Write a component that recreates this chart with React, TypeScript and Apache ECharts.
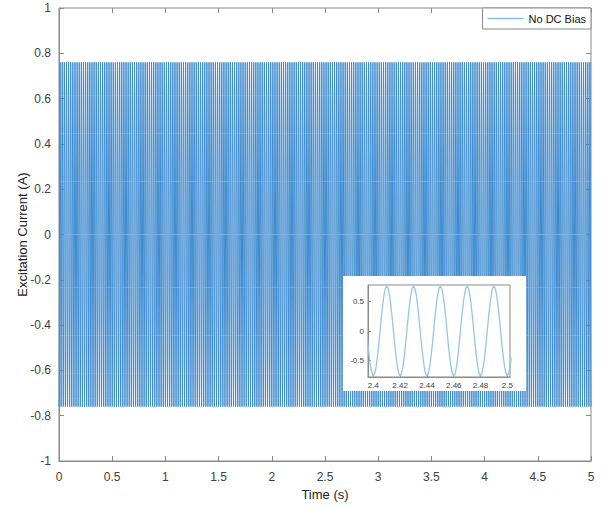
import React, { useEffect, useRef } from "react";
import * as echarts from "echarts";

// Signal: 50 Hz sine, ±0.76 A, 0..5 s
const signalAmplitude = 0.76;
const signalFrequencyHz = 50;
const sampleRateHz = 1000;
const durationS = 5;

const insetXTicks = [2.4, 2.42, 2.44, 2.46, 2.48, 2.5];
const insetYTicks = [-0.5, 0, 0.5];
const insetRange = [2.396, 2.502];
const legendLabel = "No DC Bias";

function buildSignal(): number[][] {
  const n = Math.round(durationS * sampleRateHz);
  const out: number[][] = [];
  for (let i = 0; i <= n; i++) {
    const t = i / sampleRateHz;
    out.push([t, -signalAmplitude * Math.cos(2 * Math.PI * signalFrequencyHz * t)]);
  }
  return out;
}

export default function App() {
  const ref = useRef<HTMLDivElement>(null);
  useEffect(() => {
    if (!ref.current) return;
    const chart = echarts.init(ref.current, undefined, { renderer: "svg" });
    const data = buildSignal();
    const insetData = data.filter((d) => d[0] >= insetRange[0] - 0.002 && d[0] <= insetRange[1] + 0.002);
    const font = "'Liberation Sans', Arial, Helvetica, sans-serif";
    const axisColor = "#8a8a8a";
    const labelColor = "#404040";
    const fmt = (v: number) => String(+(+v).toFixed(2));

    chart.setOption({
      animation: false,
      backgroundColor: "#fff",
      textStyle: { fontFamily: font },
      grid: [
        { left: 59, right: 19, top: 8, bottom: 47, show: true, borderColor: axisColor, borderWidth: 1, backgroundColor: "transparent" },
        { left: 368, right: 100, top: 285, bottom: 131, show: true, borderColor: axisColor, borderWidth: 1, backgroundColor: "#fff", z: 4 },
      ],
      legend: {
        data: [{ name: legendLabel, itemStyle: { color: "#8cbfe6" } }],
        right: 19,
        top: 8,
        orient: "vertical",
        backgroundColor: "#fff",
        borderColor: "#8a8a8a",
        borderWidth: 1,
        borderRadius: 0,
        padding: [5, 5, 5, 5],
        itemWidth: 36,
        itemHeight: 10,
        itemGap: 4,
        icon: "path://M0,4.5 L36,4.5 L36,5.8 L0,5.8 Z",
        textStyle: { fontSize: 11, color: "#111", fontFamily: font },
        z: 10,
      },
      graphic: [
        { type: "rect", shape: { x: 343, y: 276, width: 183, height: 115 }, style: { fill: "#fff" }, z: 3, zlevel: 0 },
      ],
      xAxis: [
        {
          type: "value", gridIndex: 0, min: 0, max: 5, interval: 0.5,
          name: "Time (s)", nameLocation: "middle", nameGap: 27, nameMoveOverlap: false,
          nameTextStyle: { fontSize: 13, color: "#222", fontFamily: font },
          axisLine: { show: true, onZero: false, lineStyle: { color: axisColor } },
          axisTick: { show: true, inside: true, length: 5, lineStyle: { color: axisColor } },
          axisLabel: { fontSize: 12, color: labelColor, margin: 10, formatter: fmt },
          splitLine: { show: false },
        },
        {
          type: "value", gridIndex: 0, min: 0, max: 5, interval: 0.5, position: "top",
          axisLine: { show: false, onZero: false },
          axisTick: { show: true, inside: true, length: 5, lineStyle: { color: axisColor } },
          axisLabel: { show: false },
          splitLine: { show: false },
        },
        {
          type: "value", gridIndex: 1, min: insetRange[0], max: insetRange[1], z: 5,
          axisLine: { show: true, onZero: false, lineStyle: { color: axisColor } },
          axisTick: { show: true, inside: true, length: 3, customValues: insetXTicks, lineStyle: { color: axisColor } },
          axisLabel: { fontSize: 8, color: labelColor, margin: 4, customValues: insetXTicks, formatter: fmt },
          splitLine: { show: false },
        },
      ],
      yAxis: [
        {
          type: "value", gridIndex: 0, min: -1, max: 1, interval: 0.2,
          name: "Excitation Current (A)", nameLocation: "middle", nameGap: 30, nameMoveOverlap: false,
          nameTextStyle: { fontSize: 13, color: "#222", fontFamily: font },
          axisLine: { show: true, onZero: false, lineStyle: { color: axisColor } },
          axisTick: { show: true, inside: true, length: 5, lineStyle: { color: axisColor } },
          axisLabel: { fontSize: 12, color: labelColor, margin: 8, formatter: fmt },
          splitLine: { show: false },
        },
        {
          type: "value", gridIndex: 0, min: -1, max: 1, interval: 0.2, position: "right",
          axisLine: { show: false, onZero: false },
          axisTick: { show: true, inside: true, length: 5, lineStyle: { color: axisColor } },
          axisLabel: { show: false },
          splitLine: { show: false },
        },
        {
          type: "value", gridIndex: 1, min: -0.78, max: 0.78, z: 5,
          axisLine: { show: true, onZero: false, lineStyle: { color: axisColor } },
          axisTick: { show: true, inside: true, length: 3, customValues: insetYTicks, lineStyle: { color: axisColor } },
          axisLabel: { fontSize: 8, color: labelColor, margin: 4, customValues: insetYTicks, formatter: fmt },
          splitLine: { show: false },
        },
      ],
      series: [
        {
          name: legendLabel, type: "line", xAxisIndex: 0, yAxisIndex: 0,
          data, showSymbol: false, symbol: "none",
          lineStyle: { color: "#3f8bcf", width: 1 }, itemStyle: { color: "#8cbfe6" },
          z: 2,
        },
        {
          name: "inset", type: "line", xAxisIndex: 2, yAxisIndex: 2,
          data: insetData, showSymbol: false, symbol: "none",
          lineStyle: { color: "#94c6ea", width: 1.3 },
          z: 6, clip: true,
        },
      ],
    });
    return () => chart.dispose();
  }, []);
  return <div ref={ref} style={{ position: "fixed", left: 0, top: 0, width: 610, height: 508 }} />;
}
